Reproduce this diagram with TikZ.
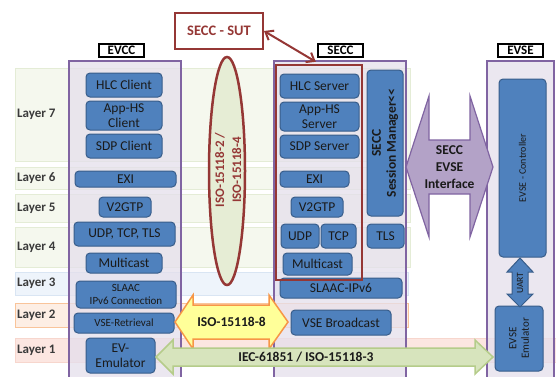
\documentclass[tikz,border=0pt]{standalone}
\usepackage{fontspec}
\setmainfont{Carlito}
\usetikzlibrary{arrows.meta,calc,shapes.geometric}
\definecolor{blkfill}{HTML}{4F81BD}
\definecolor{blkdraw}{HTML}{385D8A}
\definecolor{colfill}{HTML}{E5DFEC}
\definecolor{coldraw}{HTML}{8064A2}
\definecolor{sutred}{HTML}{953735}
\definecolor{txt}{HTML}{1A1A1A}
\definecolor{laytxt}{HTML}{3A3A3A}
\definecolor{bandg}{HTML}{F5F8EE}
\definecolor{bandgd}{HTML}{E4ECD6}
\definecolor{bandb}{HTML}{EEF4FB}
\definecolor{bandbd}{HTML}{D9E5F3}
\definecolor{bando}{HTML}{FDEEE4}
\definecolor{bandod}{HTML}{F9C49A}
\definecolor{bandp}{HTML}{FCE6E1}
\definecolor{bandpd}{HTML}{F7D6CD}
\definecolor{ifill}{HTML}{B3A2C7}
\definecolor{yfill}{HTML}{FFFF99}
\definecolor{ydraw}{HTML}{F79646}
\definecolor{gfill}{HTML}{D7E4BD}
\definecolor{gdraw}{HTML}{B5CC8A}
\definecolor{ellfill}{HTML}{E6EDD5}
\begin{document}
\begin{tikzpicture}[x=1pt,y=-1pt,
  blk/.style={draw=blkdraw, fill=blkfill, line width=1pt, rounded corners=4pt, text=txt, inner sep=0pt, align=center, font=\fontsize{13.5}{14.5}\selectfont},
  smalltxt/.style={font=\fontsize{11}{12.5}\selectfont},
  laylbl/.style={font=\bfseries\fontsize{13}{14}\selectfont, text=laytxt, anchor=west, inner sep=0pt},
  col/.style={draw=coldraw, fill=colfill, fill opacity=0.75, line width=1.2pt},
  tag/.style={draw=black, fill=white, line width=1.2pt, font=\bfseries\fontsize{13}{14}\selectfont, inner sep=0pt, minimum width=45pt, minimum height=13pt},
  bigarrowtxt/.style={font=\bfseries\fontsize{13.5}{17}\selectfont, text=txt, align=center},
]
\useasboundingbox (0,0) rectangle (556,376);
\fill[white] (0,0) rectangle (556,376);
% layer bands
\draw[fill=bandg, draw=bandgd, line width=1pt] (15,68) rectangle (410,161);
\draw[fill=bandg, draw=bandgd, line width=1pt] (15,167) rectangle (410,189);
\draw[fill=bandg, draw=bandgd, line width=1pt] (15,194) rectangle (410,222);
\draw[fill=bandg, draw=bandgd, line width=1pt] (15,227) rectangle (410,267);
\draw[fill=bandb, draw=bandbd, line width=1pt] (15,272) rectangle (408,295);
\draw[fill=bando, draw=bandod, line width=1pt] (15,303) rectangle (408,327);
\draw[fill=bandp, draw=bandpd, line width=1pt] (15,338) rectangle (560,362);
\node[laylbl] (l7) at (17,114.5) {Layer 7};
\node[laylbl] (l6) at (17,178) {Layer 6};
\node[laylbl] (l5) at (17,208) {Layer 5};
\node[laylbl] (l4) at (17,247) {Layer 4};
\node[laylbl] (l3) at (17,283.5) {Layer 3};
\node[laylbl] (l2) at (17,315) {Layer 2};
\node[laylbl] (l1) at (17,350) {Layer 1};
% columns
\draw[col] (69,61) rectangle (181,380);
\draw[col] (274,61) rectangle (406,380);
\draw[col] (487,61) rectangle (554,380);
\node[tag] (tevcc) at (121.5,50.5) {EVCC};
\node[tag] (tsecc) at (340.5,50.5) {SECC};
\node[tag] (tevse) at (520.5,50.5) {EVSE};
% EVCC blocks
\node[blk, minimum width=76pt, minimum height=24pt] (hlcc) at (124,85) {HLC Client};
\node[blk, minimum width=76pt, minimum height=29pt] (appc) at (124,115.5) {App-HS\\Client};
\node[blk, minimum width=76pt, minimum height=24pt] (sdpc) at (124,146) {SDP Client};
\node[blk, minimum width=101pt, minimum height=16pt] (exic) at (125.5,179) {EXI};
\node[blk, minimum width=52pt, minimum height=20pt] (v2gc) at (125,207) {V2GTP};
\node[blk, minimum width=101pt, minimum height=24pt] (udpc) at (124.5,234) {UDP, TCP, TLS};
\node[blk, minimum width=76pt, minimum height=20pt] (mcc) at (124,263) {Multicast};
\node[blk, smalltxt, minimum width=100pt, minimum height=27pt] (slaacc) at (126,294.5) {SLAAC\\IPv6 Connection};
\node[blk, smalltxt, minimum width=100pt, minimum height=20pt] (vsec) at (124,323) {VSE-Retrieval};
\node[blk, minimum width=69pt, minimum height=35pt] (evem) at (120.5,355.5) {EV-\\Emulator};
% SECC blocks
\node[blk, minimum width=79pt, minimum height=24pt] (hlcs) at (319.5,86) {HLC Server};
\node[blk, minimum width=79pt, minimum height=29pt] (apps) at (319.5,116.5) {App-HS\\Server};
\node[blk, minimum width=79pt, minimum height=23pt] (sdps) at (319.5,146.5) {SDP Server};
\node[blk, minimum width=69pt, minimum height=16pt] (exis) at (314.5,179) {EXI};
\node[blk, minimum width=52pt, minimum height=20pt] (v2gs) at (317,207) {V2GTP};
\node[blk, minimum width=38pt, minimum height=24pt] (udps) at (300,236) {UDP};
\node[blk, minimum width=35pt, minimum height=24pt] (tcps) at (338.5,236) {TCP};
\node[blk, minimum width=37pt, minimum height=24pt] (tlss) at (385.5,236) {TLS};
\node[blk, minimum width=69pt, minimum height=22pt] (mcs) at (317.5,264) {Multicast};
\node[blk, minimum width=122pt, minimum height=20pt] (slaacs) at (341,288) {SLAAC-IPv6};
\node[blk, minimum width=100pt, minimum height=25pt] (vsebs) at (341,322.5) {VSE Broadcast};
\node[blk, rotate=90, font=\bfseries\fontsize{13.5}{15}\selectfont, minimum width=146pt, minimum height=36pt] (sessm) at (385,143) {SECC\\Session Manager<{}<};
% EVSE blocks
\node[blk, rotate=90, font=\fontsize{10}{12}\selectfont, minimum width=178pt, minimum height=47pt] (ctrl) at (522.5,168) {EVSE - Controller};
\node[blk, rotate=90, smalltxt, minimum width=65pt, minimum height=48pt] (evsem) at (519,338.5) {EVSE\\Emulator};
\draw[draw=blkdraw, fill=blkfill, line width=1pt] (520,258) -- (533,272) -- (528,272) -- (528,294) -- (533,294) -- (520,307) -- (507,294) -- (512,294) -- (512,272) -- (507,272) -- cycle;
\node[rotate=90, text=txt, font=\fontsize{9.5}{11}\selectfont] (uart) at (520,283) {UART};
% SUT box
\node[draw=sutred, line width=2.5pt, minimum width=86pt, minimum height=215pt, inner sep=0pt] (sutbox) at (319,172.5) {};
\node[draw=sutred, fill=white, line width=2pt, text=sutred, font=\bfseries\fontsize{14.5}{16}\selectfont, minimum width=88pt, minimum height=36pt, inner sep=0pt] (sut) at (219,31) {SECC - SUT};
\draw[sutred, line width=2pt, {Straight Barb[length=7pt,width=11pt]}-{Straight Barb[length=7pt,width=11pt]}] (sut.east) -- ([xshift=41pt,yshift=2pt]sutbox.north west);
% ellipse
\node[ellipse, draw=sutred, fill=ellfill, line width=2.5pt, minimum width=36pt, minimum height=228pt, inner sep=0pt] (ell) at (227,171) {};
\node[rotate=90, text=sutred, align=center, font=\bfseries\fontsize{13}{17}\selectfont] (elltxt) at (228,170) {ISO-15118-2 /\\ISO-15118-4};
% interface arrow
\draw[draw=coldraw, fill=ifill, line width=1.2pt] (406,167) -- (429,96) -- (429,140) -- (470,140) -- (470,96) -- (493,167) -- (470,237) -- (470,194) -- (429,194) -- (429,237) -- cycle;
\node[bigarrowtxt] (iftxt) at (449.5,167) {SECC\\EVSE\\Interface};
% ISO-15118-8 arrow
\draw[draw=ydraw, fill=yfill, line width=1.5pt] (175,322) -- (193,295) -- (193,305) -- (269,305) -- (269,295) -- (288,322) -- (269,349) -- (269,339) -- (193,339) -- (193,349) -- cycle;
\node[bigarrowtxt] (i8txt) at (231.5,322) {ISO-15118-8};
% IEC arrow
\draw[draw=gdraw, fill=gfill, line width=1.5pt] (156,357) -- (173,340) -- (173,348) -- (475,348) -- (475,340) -- (493,357) -- (475,374) -- (475,366) -- (173,366) -- (173,374) -- cycle;
\node[bigarrowtxt] (iectxt) at (306,357.5) {IEC-61851 / ISO-15118-3};
\end{tikzpicture}
\end{document}
